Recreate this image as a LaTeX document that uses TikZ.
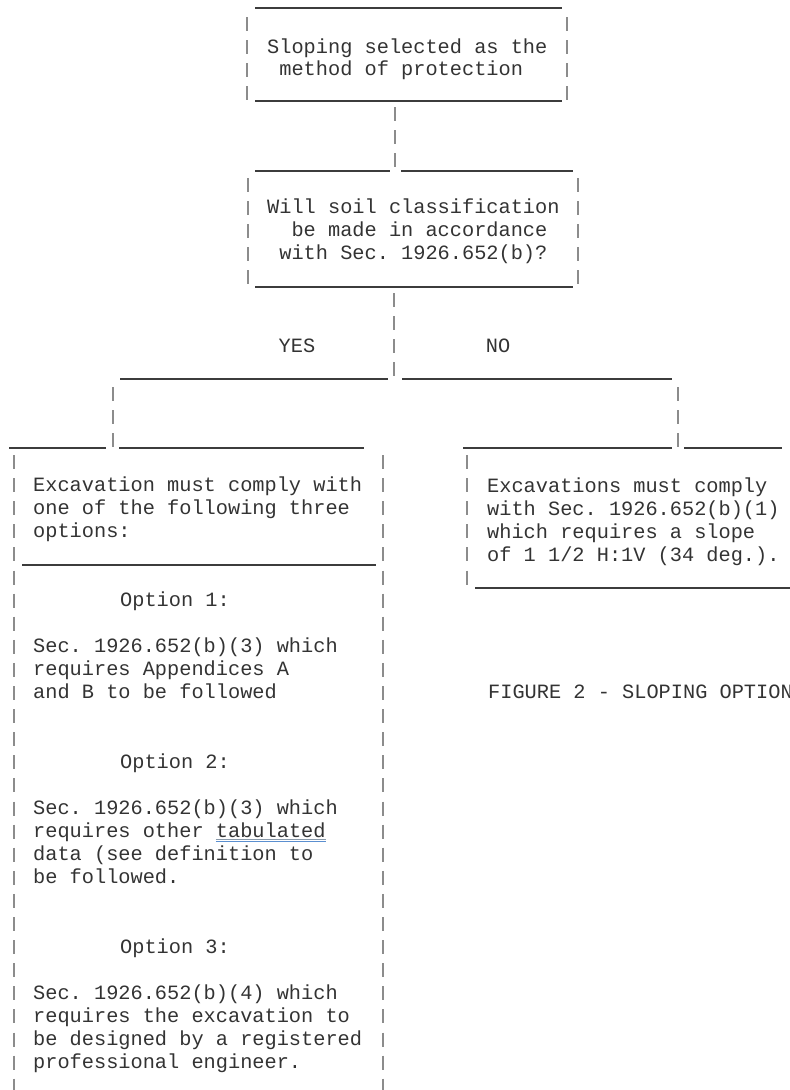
\documentclass[tikz,border=0pt]{standalone}
\usepackage{fontspec}
\newfontfamily\asciifont{Liberation Mono}
\definecolor{inkgray}{HTML}{333333}
\definecolor{rulegray}{HTML}{3C3C3C}
\definecolor{bargray}{HTML}{8C8C8C}
\definecolor{spellblue}{HTML}{5B8FD0}
\definecolor{spellgray}{HTML}{8A9AAA}
\newlength{\spellw}
\newcommand{\spellchk}[1]{\settowidth{\spellw}{#1}%
  \rlap{\textcolor{spellgray}{\rule[-2pt]{\spellw}{0.9pt}}}%
  \rlap{\textcolor{spellblue}{\rule[-4pt]{\spellw}{0.9pt}}}#1}

\begin{document}
\begin{tikzpicture}[x=1pt,y=-1pt,
  asc/.style={anchor=base west,inner sep=0pt,text=inkgray,
    font=\asciifont\fontsize{20.3}{23.1}\selectfont\frenchspacing},
  hrule/.style={draw=rulegray,line width=1.6pt},
  vbar/.style={draw=bargray,line width=1.5pt,dash pattern=on 14pt off 9.1pt}]
\useasboundingbox (0,0) rectangle (790,1090);
\clip (0,0) rectangle (790,1090);
% top box
\draw[hrule] (255,8) -- (562,8) (255,101) -- (562,101);
\draw[vbar] (247,17) -- (247,100) (567,17) -- (567,100);
\foreach \txt [count=\i from 0] in {Sloping selected as the, \phantom{x}method of protection}
  \node[asc] (slope-\i) at (267,53+22*\i) {\txt};
\coordinate (slope-s) at (395,107);
\coordinate (soil-n) at (395,171);
\draw[vbar] (slope-s) -- (soil-n);
% question box
\draw[hrule] (255,171) -- (390,171) (401,171) -- (573,171) (255,287) -- (573,287);
\draw[vbar] (248,178) -- (248,287) (578,178) -- (578,287);
\foreach \txt [count=\i from 0] in {Will soil classification, \phantom{xx}be made in accordance, \phantom{x}with Sec. 1926.652(b)?}
  \node[asc] (soil-\i) at (267,213+23*\i) {\txt};
\coordinate (soil-s) at (394,293);
\coordinate (fork) at (394,377);
\draw[vbar] (soil-s) -- (fork);
\node[asc,anchor=base] (yes) at (297,352) {YES};
\node[asc,anchor=base] (no) at (498,352) {NO};
% branches
\draw[hrule] (120,379) -- (388,379) (402,379) -- (672,379);
\coordinate (fork-l) at (113,387);
\coordinate (must-n) at (113,447);
\coordinate (fork-r) at (678,387);
\coordinate (comply-n) at (678,447);
\draw[vbar] (fork-l) -- (must-n) (fork-r) -- (comply-n);
\draw[hrule] (9,448) -- (106,448) (119,448) -- (364,448)
  (463,448) -- (672,448) (684,448) -- (782,448);
% YES box
\draw[vbar] (14,455) -- (14,1090) (383,455) -- (383,1090);
\draw[hrule] (22,565) -- (376,565);
\foreach \txt [count=\i from 0] in {Excavation must comply with, one of the following three, options:}
  \node[asc] (must-\i) at (33,491+23.1*\i) {\txt};
\foreach \n/\r in {1/5,2/12,3/20}
  \node[asc] (opt-\n) at (120,491+23.1*\r) {Option \n:};
\foreach \txt [count=\i from 7] in {Sec. 1926.652(b)(3) which, requires Appendices A, and B to be followed}
  \node[asc] (row-\i) at (33,491+23.1*\i) {\txt};
\foreach \txt [count=\i from 14] in {Sec. 1926.652(b)(3) which, {requires other \spellchk{tabulated}}, data (see definition to, be followed.}
  \node[asc] (row-\i) at (33,491+23.1*\i) {\txt};
\foreach \txt [count=\i from 22] in {Sec. 1926.652(b)(4) which, requires the excavation to, be designed by a registered, professional engineer.}
  \node[asc] (row-\i) at (33,491+23.1*\i) {\txt};
% NO box
\draw[vbar] (467,455) -- (467,585);
\draw[hrule] (475,588) -- (790,588);
\foreach \txt [count=\i from 0] in {Excavations must comply, with Sec. 1926.652(b)(1), which requires a slope, of 1 1/2 H:1V (34 deg.).}
  \node[asc] (comply-\i) at (487,492+23.1*\i) {\txt};
\node[asc] (caption) at (488,698) {FIGURE 2 - SLOPING OPTION};
\end{tikzpicture}
\end{document}
